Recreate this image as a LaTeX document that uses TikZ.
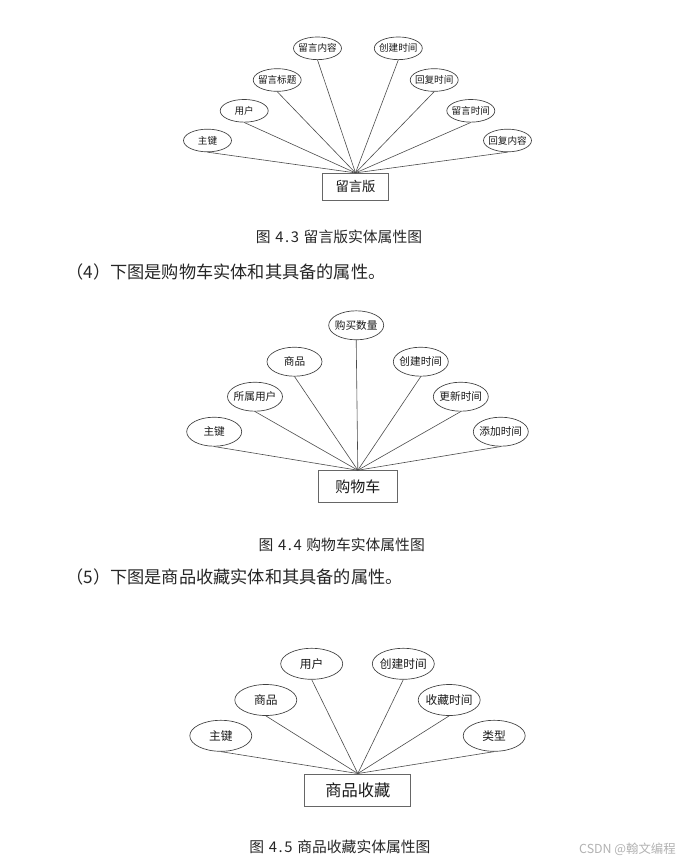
\documentclass[tikz,border=0pt]{standalone}
\usepackage{fontspec}
\setmainfont{Noto Sans CJK SC}
\usetikzlibrary{shapes.geometric}
\newcommand\zw[1]{\makebox[0pt]{#1}}
\newcommand\capnum[2]{\hspace{3.5pt}#1\kern1.2pt.\kern1.2pt#2\hspace{3.5pt}}
\begin{document}
\begin{tikzpicture}[x=0.75pt,y=-0.75pt,
  attr/.style={ellipse, draw=black!75, line width=0.5pt, inner sep=0pt, text=black!90},
  attrA/.style={attr, minimum width=36pt, minimum height=17pt, font=\fontsize{7.2pt}{8pt}\selectfont},
  attrB/.style={attr, minimum width=41.25pt, minimum height=21.75pt, font=\fontsize{8pt}{9pt}\selectfont},
  attrC/.style={attr, minimum width=46.5pt, minimum height=23.25pt, font=\fontsize{8.8pt}{10pt}\selectfont},
  ent/.style={rectangle, draw=black!60, line width=0.7pt, inner sep=0pt, text=black!90},
  link/.style={draw=black!70, line width=0.45pt},
  para/.style={anchor=west, inner sep=0pt, font=\fontsize{12.9pt}{14pt}\selectfont, text=black!85},
  capt/.style={inner sep=0pt, font=\fontsize{11.1pt}{12pt}\selectfont, text=black!85},
  wm/.style={anchor=east, inner sep=0pt, font=\fontsize{9.3pt}{10pt}\selectfont, text=black!30}
]
\useasboundingbox (0,0) rectangle (681,868);
\fill[white] (0,0) rectangle (681,868);

% ---------- Diagram 4.3 ----------
\node[ent, minimum width=49.2pt, minimum height=20pt, font=\fontsize{10pt}{11pt}\selectfont] (b1) at (355.5,186.7) {留言版};
\node[attrA] (a1) at (207.5,140.5) {\zw{主键}};
\node[attrA] (a2) at (244.2,110.8) {\zw{用户}};
\node[attrA] (a3) at (277.2,80) {\zw{留言标题}};
\node[attrA] (a4) at (317.5,48.3) {\zw{留言内容}};
\node[attrA] (a5) at (398.3,48.3) {\zw{创建时间}};
\node[attrA] (a6) at (434.2,80) {\zw{回复时间}};
\node[attrA] (a7) at (470.8,110.8) {\zw{留言时间}};
\node[attrA] (a8) at (507.5,140.5) {\zw{回复内容}};
\foreach \n in {a1,a2,a3,a4,a5,a6,a7,a8} \draw[link] (\n.south) -- (b1.north);
\node[capt] (c1) at (339,237) {图\capnum{4}{3}留言版实体属性图};

\node[para] (p4) at (66,272.3) {（4）下图是购物车实体和其具备的属性。};

% ---------- Diagram 4.4 ----------
\node[ent, minimum width=59.25pt, minimum height=24pt, font=\fontsize{11.25pt}{12pt}\selectfont] (b2) at (357.8,486.7) {购物车};
\node[attrB] (d1) at (214.2,431.7) {\zw{主键}};
\node[attrB] (d2) at (255,396.7) {\zw{所属用户}};
\node[attrB] (d3) at (294.5,361.7) {\zw{商品}};
\node[attrB] (d4) at (356.2,325.3) {\zw{购买数量}};
\node[attrB] (d5) at (420.8,361.7) {\zw{创建时间}};
\node[attrB] (d6) at (460.8,396.7) {\zw{更新时间}};
\node[attrB] (d7) at (500.8,431.7) {\zw{添加时间}};
\foreach \n in {d1,d2,d3,d4,d5,d6,d7} \draw[link] (\n.south) -- (b2.north);
\node[capt] (c2) at (341.7,545) {图\capnum{4}{4}购物车实体属性图};

\node[para] (p5) at (66,577.3) {（5）下图是商品收藏实体和其具备的属性。};

% ---------- Diagram 4.5 ----------
\node[ent, minimum width=79.3pt, minimum height=24pt, font=\fontsize{12.2pt}{13pt}\selectfont] (b3) at (357.8,790) {商品收藏};
\node[attrC] (f1) at (220.8,735.8) {\zw{主键}};
\node[attrC] (f2) at (265.8,700) {\zw{商品}};
\node[attrC] (f3) at (311.7,663.8) {\zw{用户}};
\node[attrC] (f4) at (403.3,663.8) {\zw{创建时间}};
\node[attrC] (f5) at (449.2,700) {\zw{收藏时间}};
\node[attrC] (f6) at (494.2,735.8) {\zw{类型}};
\foreach \n in {f1,f2,f3,f4,f5,f6} \draw[link] (\n.south) -- (b3.north);
\node[capt] (c3) at (340,847) {图\capnum{4}{5}商品收藏实体属性图};

\node[wm] (wm) at (676,849) {CSDN @翰文编程};
\end{tikzpicture}
\end{document}
